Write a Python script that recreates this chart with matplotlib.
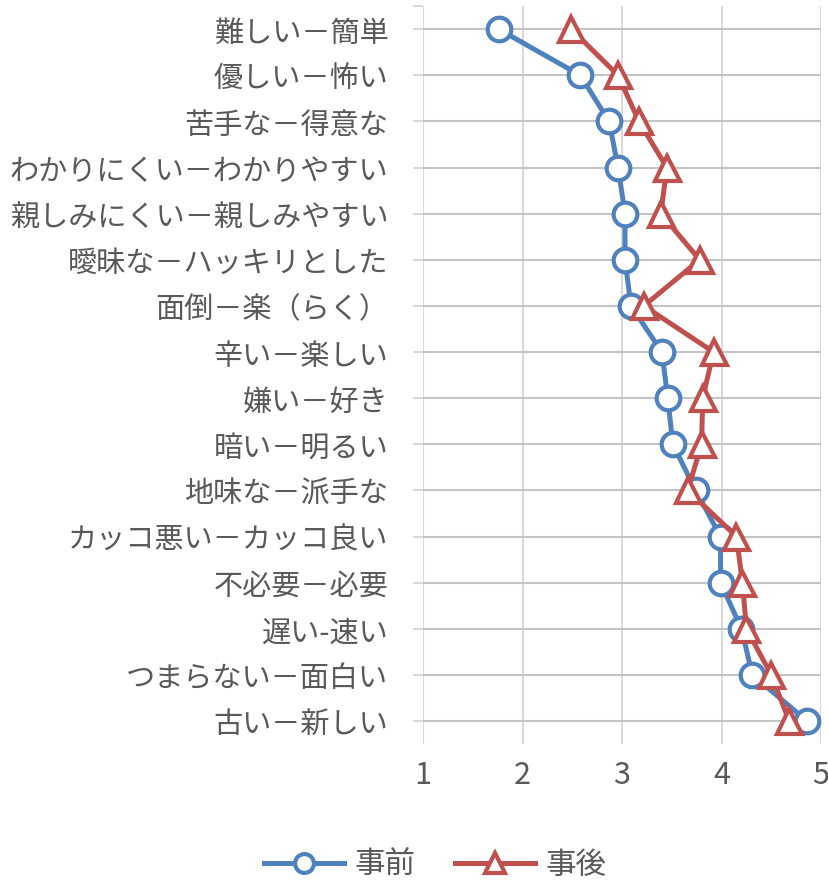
import matplotlib
matplotlib.use("Agg")
from matplotlib import pyplot as plt

plt.rcParams['font.family'] = ['Noto Sans CJK JP', 'DejaVu Sans']

labels = ["難しい－簡単", "優しい－怖い", "苦手な－得意な", "わかりにくい－わかりやすい",
          "親しみにくい－親しみやすい", "曖昧な－ハッキリとした", "面倒－楽（らく）",
          "辛い－楽しい", "嫌い－好き", "暗い－明るい", "地味な－派手な",
          "カッコ悪い－カッコ良い", "不必要－必要", "遅い-速い", "つまらない－面白い",
          "古い－新しい"]
before = [1.76, 2.58, 2.87, 2.96, 3.03, 3.03, 3.09, 3.40,
          3.46, 3.51, 3.74, 3.99, 3.99, 4.20, 4.31, 4.86]
after = [2.49, 2.96, 3.17, 3.45, 3.39, 3.78, 3.22, 3.92,
         3.81, 3.80, 3.66, 4.15, 4.21, 4.25, 4.50, 4.68]
xticks = [1, 2, 3, 4, 5]

blue = '#4F81BD'
red = '#C0504D'
gray = '#595959'

fig = plt.figure(figsize=(8.29, 8.87), dpi=100)
ax = fig.add_axes([0.5103, 0.160, 0.4801, 0.832])

ypos = list(range(len(labels)))

# grid
for x in xticks:
    ax.axvline(x, color='#D9D9D9', lw=1.5, zorder=1)
ax.hlines(ypos, 1, 5, color='#C4C4C4', lw=1.5, zorder=1)

ax.plot(before, ypos, color=blue, lw=3.6, marker='o', ms=17, mew=3,
        mfc='white', mec=blue, label='事前', zorder=3)
ax.plot(after, ypos, color=red, lw=3.6, marker='^', ms=18, mew=3,
        mfc='white', mec=red, label='事後', zorder=4)

ax.set_xlim(1, 5)
ax.set_ylim(len(labels) - 0.5, -0.5)
ax.set_xticks(xticks)
ax.set_xticklabels([str(x) for x in xticks])
ax.set_yticks(ypos)
ax.set_yticklabels(labels)
ax.set_yticks([-0.5], minor=True)

ax.tick_params(axis='y', which='both', direction='out', length=7, width=1.5,
               color='#D9D9D9', labelsize=21, labelcolor=gray, pad=18)
ax.tick_params(axis='x', length=0, labelsize=22, labelcolor=gray, pad=11)

for s in ax.spines.values():
    s.set_visible(False)

leg = fig.legend(loc='center', bbox_to_anchor=(0.525, 0.024), ncol=2,
                 frameon=False, fontsize=22, handlelength=2.6,
                 columnspacing=1.3, handletextpad=0.35, markerscale=0.8,
                 borderpad=0.2)
for t in leg.get_texts():
    t.set_color(gray)

fig.savefig('out.png', dpi=100)
